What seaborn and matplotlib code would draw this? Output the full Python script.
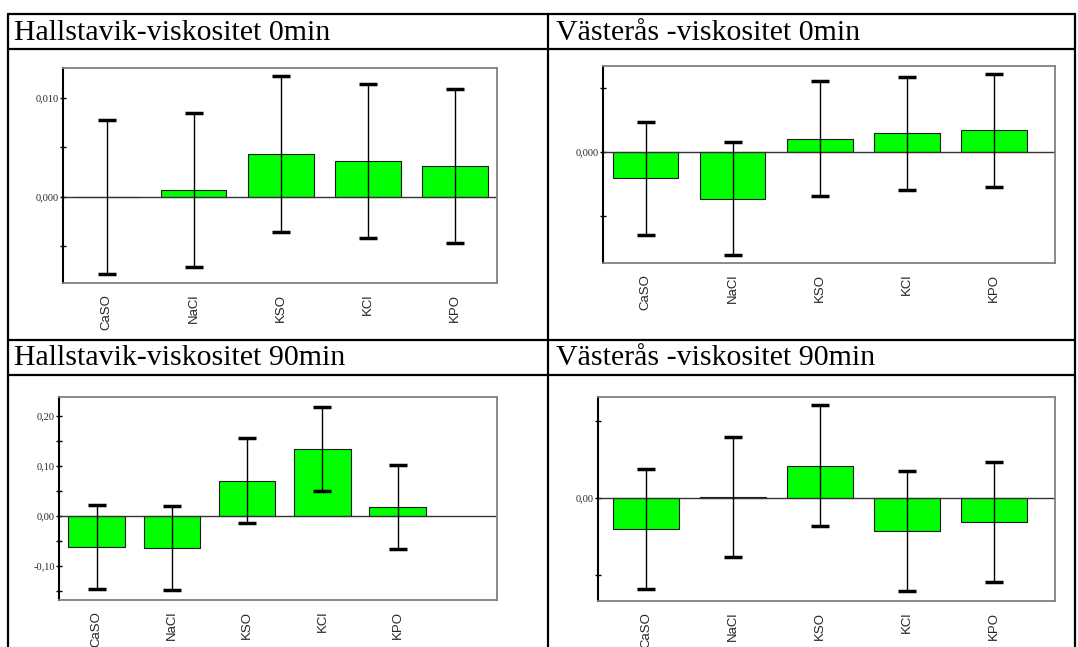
import numpy as np
import pandas as pd
import seaborn as sns
import matplotlib.pyplot as plt
from matplotlib.lines import Line2D

# salts on the x axis (same in all four charts)
salts = ["CaSO", "NaCl", "KSO", "KCl", "KPO"]

# Hallstavik 0 min
hall0_vals = [0.0000, 0.0007, 0.0043, 0.0036, 0.0031]
hall0_err = [0.0078, 0.0078, 0.0079, 0.0078, 0.0078]
# Västerås 0 min
vast0_vals = [-0.0041, -0.0073, 0.0021, 0.0029, 0.0034]
vast0_err = [0.0088, 0.0088, 0.0089, 0.0088, 0.0088]
# Hallstavik 90 min
hall90_vals = [-0.062, -0.064, 0.071, 0.135, 0.019]
hall90_err = [0.084, 0.084, 0.085, 0.084, 0.084]
# Västerås 90 min
vast90_vals = [-0.0040, 0.0001, 0.0042, -0.0043, -0.0031]
vast90_err = [0.0078, 0.0078, 0.0079, 0.0078, 0.0078]

titles = ["Hallstavik-viskositet 0min", "Västerås -viskositet 0min",
          "Hallstavik-viskositet 90min", "Västerås -viskositet 90min"]

W, H = 1078, 647
sns.set_theme(style="white")
plt.rcParams["font.family"] = ["Liberation Sans", "DejaVu Sans"]

fig = plt.figure(figsize=(W / 100, H / 100), dpi=100)


def px_box(l, t, r, b):
    return [l / W, 1 - b / H, (r - l) / W, (b - t) / H]


# table grid (bottom edge is cut off in the reference)
def hline(y, x0=8, x1=1075):
    fig.add_artist(Line2D([x0 / W, x1 / W], [1 - y / H, 1 - y / H], color="black", lw=1.6))


def vline(x, y0=14, y1=647):
    fig.add_artist(Line2D([x / W, x / W], [1 - y0 / H, 1 - y1 / H], color="black", lw=1.6))


for y in [14, 49, 340, 375]:
    hline(y)
for x in [8, 548, 1075]:
    vline(x)

# header texts
for (tx, ty), t in zip([(14, 33), (556, 33), (14, 358), (556, 358)], titles):
    fig.text(tx / W, 1 - ty / H, t, family="Liberation Serif", fontsize=21.5,
             ha="left", va="center", color="black")

panels = [
    dict(vals=hall0_vals, err=hall0_err, box=(63, 68, 497, 283),
         xlim=(-0.5, 4.48), ylim=(-0.0087, 0.0130),
         major=[0.0, 0.01], labels=["0,000", "0,010"], minor=[-0.005, 0.005]),
    dict(vals=vast0_vals, err=vast0_err, box=(603, 66, 1055, 263),
         xlim=(-0.49, 4.7), ylim=(-0.0173, 0.0134),
         major=[0.0], labels=["0,000"], minor=[-0.01, 0.01]),
    dict(vals=hall90_vals, err=hall90_err, box=(59, 397, 497, 600),
         xlim=(-0.5, 5.32), ylim=(-0.168, 0.238),
         major=[-0.1, 0.0, 0.1, 0.2], labels=["-0,10", "0,00", "0,10", "0,20"],
         minor=[-0.15, -0.05, 0.05, 0.15]),
    dict(vals=vast90_vals, err=vast90_err, box=(598, 397, 1055, 601),
         xlim=(-0.55, 4.7), ylim=(-0.0134, 0.0131),
         major=[0.0], labels=["0,00"], minor=[-0.01, 0.01]),
]

for p in panels:
    ax = fig.add_axes(px_box(*p["box"]))
    df = pd.DataFrame({"salt": salts, "value": p["vals"]})
    sns.barplot(data=df, x="salt", y="value", color="#00FF00", saturation=1,
                width=0.75, edgecolor="#1a1a1a", linewidth=0.8, errorbar=None, ax=ax)
    centers = [b.get_x() + b.get_width() / 2 for b in ax.patches]
    ax.errorbar(centers, p["vals"], yerr=p["err"], fmt="none", ecolor="black",
                elinewidth=1.0, capsize=6.5, capthick=2.5, zorder=5)
    ax.axhline(0, color="#333333", lw=1.0, zorder=1)
    ax.set_xlim(*p["xlim"])
    ax.set_ylim(*p["ylim"])
    ax.set_xlabel("")
    ax.set_ylabel("")
    ax.set_yticks(p["major"])
    ax.set_yticklabels(p["labels"], family="Liberation Serif", fontsize=7.5)
    ax.set_yticks(p["minor"], minor=True)
    ax.tick_params(axis="y", which="both", left=True, direction="inout",
                   length=4, width=1, color="black", pad=1)
    ax.tick_params(axis="x", length=0, pad=8, labelsize=9.5, labelrotation=90)
    for lab in ax.get_xticklabels():
        lab.set_family("Liberation Sans")
    for side in ["top", "right", "bottom"]:
        ax.spines[side].set_color("#808080")
        ax.spines[side].set_linewidth(1.3)
    ax.spines["left"].set_color("black")
    ax.spines["left"].set_linewidth(1.5)
    ax.set_facecolor("white")

fig.savefig("out.png", dpi=100, facecolor="white")
